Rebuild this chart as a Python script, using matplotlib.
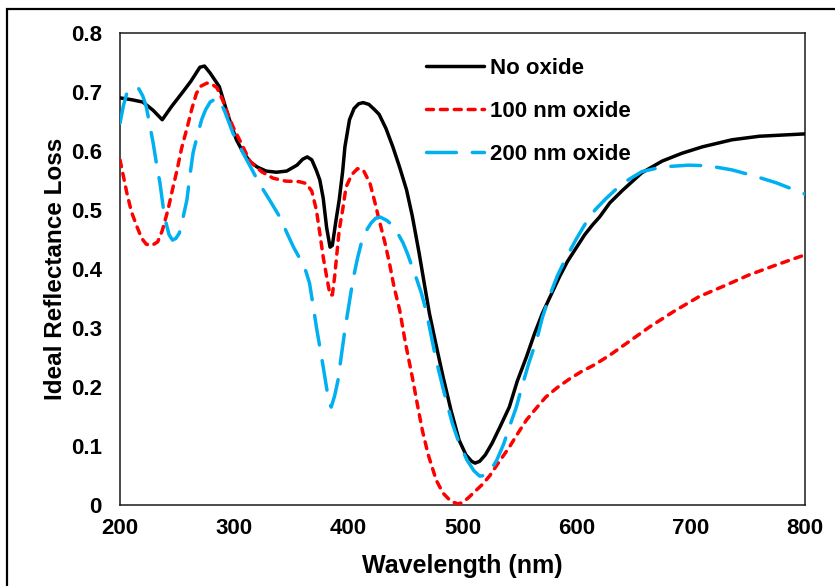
import matplotlib
matplotlib.use("Agg")
import matplotlib.pyplot as plt
from matplotlib.patches import Rectangle

plt.rcParams['font.family'] = ['Liberation Sans', 'DejaVu Sans']
plt.rcParams['font.weight'] = 'bold'
plt.rcParams['lines.scale_dashes'] = False

# Reflectance loss vs wavelength (nm) for three oxide thicknesses
wl_none = [200, 210, 220, 229, 237, 245, 255, 262, 270, 274, 279, 287, 295, 302, 308,
           314, 320, 328, 337, 346, 355, 360, 364, 368, 372, 375, 378, 381, 384, 386,
           389, 392, 395, 397, 401, 405, 409, 413, 418, 423, 427, 433, 439, 445, 451,
           456, 462, 467, 471, 477, 483, 490, 497, 503, 508, 511, 515, 520, 526, 533,
           541, 548, 556, 563, 570, 578, 585, 592, 600, 607, 614, 620, 629, 640, 657,
           675, 692, 710, 736, 760, 780, 800]
loss_none = [0.690, 0.687, 0.683, 0.669, 0.653, 0.675, 0.700, 0.718, 0.742, 0.744, 0.732,
             0.709, 0.658, 0.619, 0.597, 0.582, 0.573, 0.566, 0.564, 0.566, 0.576, 0.586,
             0.590, 0.585, 0.567, 0.551, 0.520, 0.470, 0.437, 0.440, 0.480, 0.517, 0.565,
             0.607, 0.653, 0.672, 0.680, 0.682, 0.679, 0.670, 0.662, 0.638, 0.607, 0.572,
             0.534, 0.490, 0.427, 0.370, 0.325, 0.270, 0.217, 0.160, 0.110, 0.085, 0.074,
             0.071, 0.074, 0.085, 0.105, 0.133, 0.166, 0.210, 0.251, 0.290, 0.325, 0.358,
             0.387, 0.413, 0.437, 0.458, 0.475, 0.488, 0.512, 0.533, 0.563, 0.583, 0.596,
             0.607, 0.619, 0.625, 0.627, 0.629]

wl_100 = [200, 206, 210, 215, 219, 223, 228, 233, 237, 242, 246, 250, 254, 259, 263,
          267, 271, 276, 280, 285, 290, 295, 299, 307, 314, 324, 334, 345, 357, 363,
          368, 372, 375, 378, 381, 384, 386, 388, 392, 395, 398, 403, 408, 413, 419,
          423, 427, 432, 436, 440, 445, 450, 456, 461, 465, 470, 477, 483, 490, 496,
          500, 505, 512, 518, 524, 532, 541, 548, 556, 565, 573, 583, 594, 604, 614,
          620, 629, 640, 664, 685, 707, 730, 751, 775, 800]
loss_100 = [0.585, 0.529, 0.497, 0.471, 0.452, 0.442, 0.440, 0.446, 0.465, 0.500, 0.535,
            0.568, 0.605, 0.641, 0.672, 0.698, 0.710, 0.715, 0.714, 0.707, 0.686, 0.660,
            0.641, 0.610, 0.582, 0.565, 0.554, 0.549, 0.548, 0.545, 0.532, 0.500, 0.461,
            0.420, 0.387, 0.356, 0.356, 0.387, 0.466, 0.500, 0.539, 0.560, 0.570, 0.568,
            0.545, 0.515, 0.483, 0.445, 0.410, 0.370, 0.330, 0.275, 0.217, 0.165, 0.125,
            0.085, 0.042, 0.020, 0.006, 0.002, 0.004, 0.012, 0.025, 0.036, 0.050, 0.073,
            0.098, 0.120, 0.144, 0.165, 0.183, 0.199, 0.214, 0.226, 0.236, 0.243, 0.254,
            0.269, 0.302, 0.328, 0.353, 0.372, 0.390, 0.407, 0.424]

wl_200 = [200, 203, 206, 211, 216, 220, 223, 226, 229, 232, 235, 239, 243, 246, 249,
          252, 255, 258.6, 261, 264, 268, 271.5, 275, 279, 285, 288, 292, 299, 305, 311,
          316, 322, 331, 340, 346, 352, 356, 360, 363, 366, 369, 372, 375, 378, 381,
          383, 385, 388, 391, 394, 397, 401, 404, 408, 412, 416, 420, 424, 428, 434,
          439, 444, 448, 452, 456, 460, 464, 468, 471, 477, 484, 491, 497, 504, 510,
          515, 520, 525, 530, 536, 541, 547, 552, 558, 565, 570, 576, 583, 591, 600,
          608, 616, 626, 640, 657, 675, 698, 715, 736, 755, 775, 800]
loss_200 = [0.647, 0.677, 0.698, 0.708, 0.707, 0.693, 0.675, 0.645, 0.614, 0.578, 0.546,
            0.488, 0.458, 0.449, 0.452, 0.461, 0.485, 0.517, 0.555, 0.597, 0.628, 0.653,
            0.670, 0.683, 0.690, 0.683, 0.666, 0.630, 0.607, 0.585, 0.567, 0.545, 0.517,
            0.488, 0.462, 0.437, 0.423, 0.410, 0.395, 0.376, 0.340, 0.302, 0.268, 0.234,
            0.198, 0.175, 0.166, 0.185, 0.212, 0.255, 0.297, 0.345, 0.381, 0.418, 0.449,
            0.466, 0.478, 0.486, 0.488, 0.482, 0.473, 0.458, 0.444, 0.425, 0.403, 0.382,
            0.359, 0.330, 0.302, 0.245, 0.190, 0.139, 0.105, 0.076, 0.058, 0.049, 0.050,
            0.060, 0.076, 0.103, 0.132, 0.165, 0.200, 0.240, 0.280, 0.318, 0.353, 0.388,
            0.420, 0.452, 0.478, 0.500, 0.520, 0.545, 0.565, 0.573, 0.576, 0.575, 0.568,
            0.558, 0.546, 0.527]

series_labels = ["No oxide", "100 nm oxide", "200 nm oxide"]
x_ticks = [200, 300, 400, 500, 600, 700, 800]
y_ticks = [0, 0.1, 0.2, 0.3, 0.4, 0.5, 0.6, 0.7, 0.8]
y_tick_labels = ["0", "0.1", "0.2", "0.3", "0.4", "0.5", "0.6", "0.7", "0.8"]

fig = plt.figure(figsize=(8.35, 5.86), dpi=100)
ax = fig.add_axes([120 / 835, 81 / 586, 685 / 835, 472 / 586])

lw = 2.5
ax.plot(wl_none, loss_none, color="black", lw=lw, solid_capstyle="round",
        solid_joinstyle="round", label=series_labels[0], zorder=3)
ax.plot(wl_100, loss_100, color="#FF0000", lw=lw, dashes=(5.0, 5.0),
        dash_capstyle="round", dash_joinstyle="round", label=series_labels[1], zorder=4)
ax.plot(wl_200, loss_200, color="#00B0F0", lw=lw, dashes=(21.5, 11.5),
        dash_capstyle="round", dash_joinstyle="round", label=series_labels[2], zorder=5)

ax.set_xlim(200, 800)
ax.set_ylim(0, 0.8)
ax.set_xticks(x_ticks)
ax.set_yticks(y_ticks)
ax.set_yticklabels(y_tick_labels)
ax.tick_params(length=0, labelsize=16)
ax.tick_params(axis="y", pad=13)
ax.tick_params(axis="x", pad=9)
for s in ax.spines.values():
    s.set_linewidth(1.1)
    s.set_color("#1a1a1a")

ax.set_xlabel("Wavelength (nm)", fontsize=18, fontweight="bold", labelpad=11)
ax.set_ylabel("Ideal Reflectance Loss", fontsize=17.5, fontweight="bold", labelpad=3)

leg = ax.legend(loc="upper left", bbox_to_anchor=(0.447, 0.948), frameon=False,
                fontsize=16, handlelength=2.6, handletextpad=0.27,
                labelspacing=1.0, borderpad=0, borderaxespad=0)
for t in leg.get_texts():
    t.set_fontweight("bold")

# outer frame around the whole figure
fig.patches.append(Rectangle((7 / 835, -0.05), 1.2, 1 - 9 / 586 + 0.05,
                             transform=fig.transFigure, fill=False,
                             edgecolor="black", linewidth=1.6, zorder=10))

fig.savefig("out.png", dpi=100)
